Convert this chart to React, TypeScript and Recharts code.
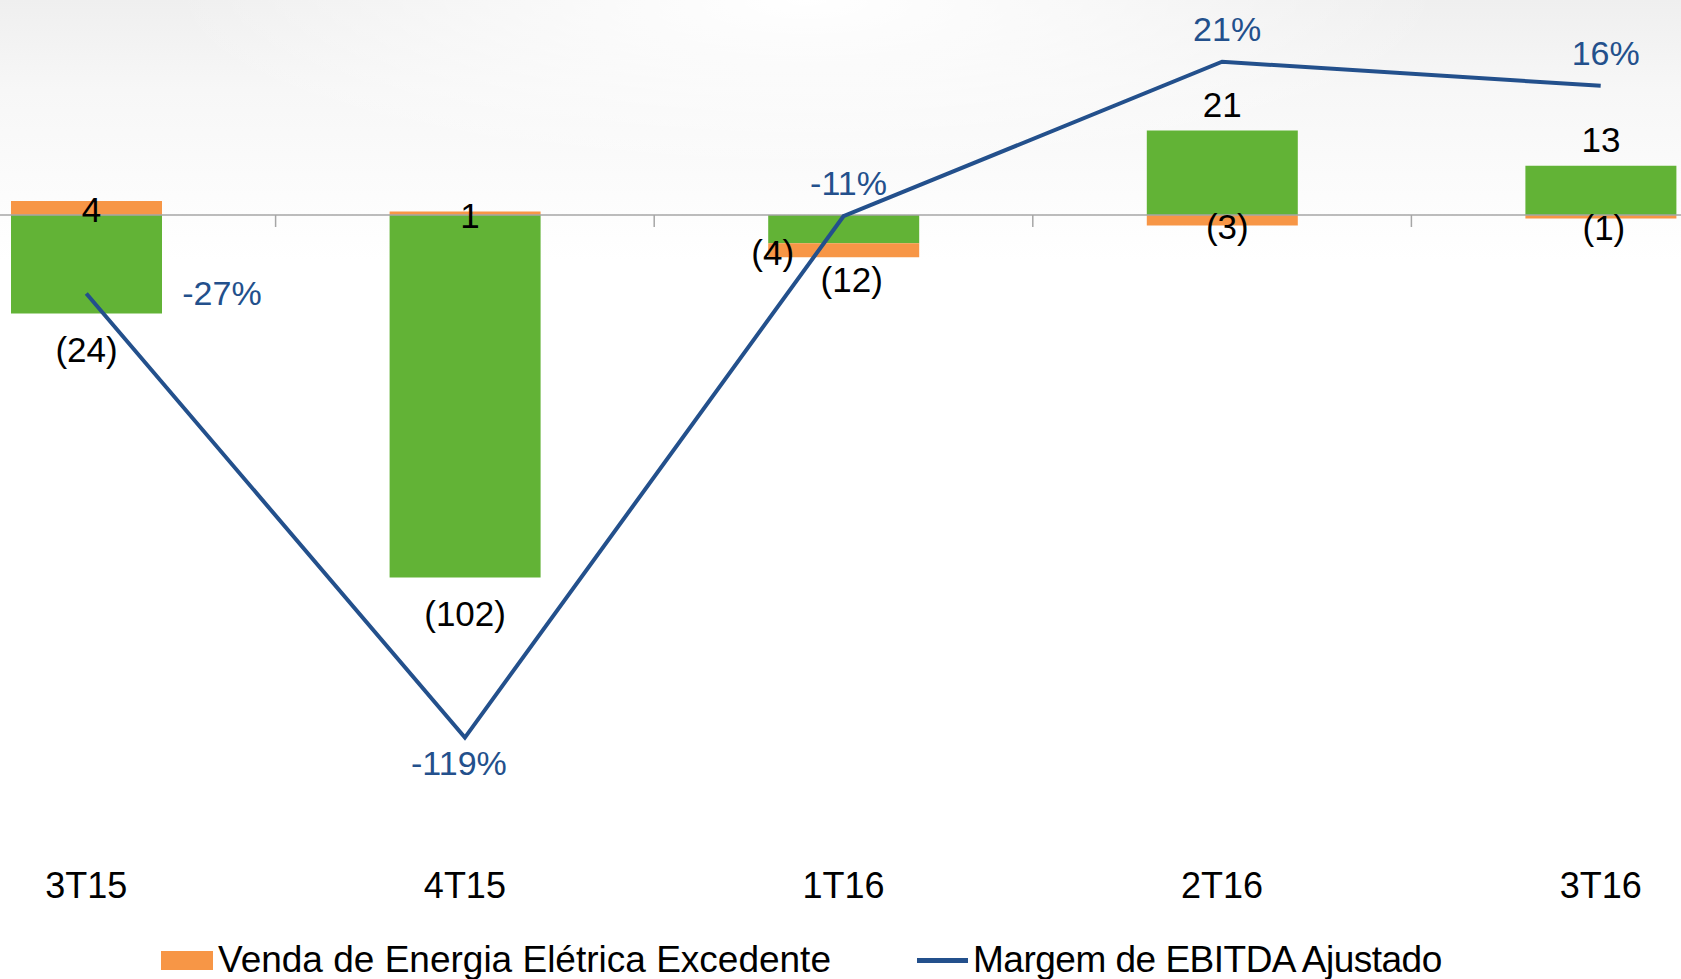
import React from 'react';
import {
  ComposedChart,
  Bar,
  Line,
  XAxis,
  YAxis,
  LabelList,
  ReferenceLine,
} from 'recharts';

// ---- data ----
const QUARTERS = ['3T15', '4T15', '1T16', '2T16', '3T16'];
// Venda de Energia Elétrica Excedente (R$ MM)
const EXCEDENTE = [4, 1, -4, -3, -1];
// EBITDA Ajustado sem venda excedente (green bars)
const EBITDA_SEM_EXCEDENTE = [-28, -103, -8, 24, 14];
// EBITDA Ajustado total (labels above/below bars)
const EBITDA_TOTAL = [-24, -102, -12, 21, 13];
// Margem de EBITDA Ajustado (%)
const MARGEM = [-27, -119, -11, 21, 16];

const data = QUARTERS.map((q, i) => ({
  q,
  green: EBITDA_SEM_EXCEDENTE[i],
  orange: EXCEDENTE[i],
  total: EBITDA_TOTAL[i],
  pct: MARGEM[i],
}));

// ---- styles ----
const FONT = "'Liberation Sans', Arial, sans-serif";
const GREEN = '#62b336';
const ORANGE = '#f79646';
const BLUE = '#23508c';
const AXIS_GRAY = '#a6a6a6';
const PCT_LABEL_POS = ['right', 'below', 'above', 'above', 'above'];
const ORANGE_LABEL_NUDGE: [number, number][] = [
  [5, 2],
  [5, 2],
  [-71, 2],
  [5, 6],
  [3, 11],
];

const fmt = (v: number) => (v < 0 ? `(${Math.abs(v)})` : `${v}`);

function box(props: any) {
  const vb = props.viewBox || {};
  const x = props.x ?? vb.x ?? 0;
  const y = props.y ?? vb.y ?? 0;
  const w = props.width ?? vb.width ?? 0;
  const h = props.height ?? vb.height ?? 0;
  return { x: Number(x), y: Number(y), w: Number(w), h: Number(h) };
}

function idxOf(props: any, arr: number[]) {
  if (typeof props.index === 'number') return props.index;
  return arr.indexOf(Number(props.value));
}

const TotalLabel = (props: any) => {
  const i = idxOf(props, EBITDA_SEM_EXCEDENTE);
  if (i < 0) return null;
  const { x, y, w, h } = box(props);
  const top = Math.min(y, y + h);
  const bottom = Math.max(y, y + h);
  const total = EBITDA_TOTAL[i];
  const cx = x + w / 2 + (i === 2 ? 8 : 0);
  const cy = total < 0 ? bottom + 36 : top - 26;
  return (
    <text
      x={cx}
      y={cy}
      textAnchor="middle"
      dominantBaseline="central"
      fontFamily={FONT}
      fontSize={35}
      fill="#000"
    >
      {fmt(total)}
    </text>
  );
};

const OrangeLabel = (props: any) => {
  const i = idxOf(props, EXCEDENTE);
  if (i < 0) return null;
  const { x, y, w, h } = box(props);
  const top = Math.min(y, y + h);
  const bottom = Math.max(y, y + h);
  const [dx, dy] = ORANGE_LABEL_NUDGE[i] || [0, 0];
  return (
    <text
      x={x + w / 2 + dx}
      y={(top + bottom) / 2 + dy}
      textAnchor="middle"
      dominantBaseline="central"
      fontFamily={FONT}
      fontSize={35}
      fill="#000"
    >
      {fmt(EXCEDENTE[i])}
    </text>
  );
};

const PctLabel = (props: any) => {
  const i = idxOf(props, MARGEM);
  if (i < 0) return null;
  const { x, y } = box(props);
  const pos = PCT_LABEL_POS[i];
  let tx = x;
  let ty = y;
  let anchor: 'start' | 'middle' = 'middle';
  if (pos === 'right') {
    tx = x + 96;
    anchor = 'start';
  } else if (pos === 'below') {
    tx = x - 6;
    ty = y + 25;
  } else {
    tx = x + 5;
    ty = y - 33;
  }
  return (
    <text
      x={tx}
      y={ty}
      textAnchor={anchor}
      dominantBaseline="central"
      fontFamily={FONT}
      fontSize={34}
      fill={BLUE}
    >
      {`${MARGEM[i]}%`}
    </text>
  );
};

const ZeroAxis = (props: any) => {
  const x1 = Number(props.x1 ?? 0);
  const x2 = Number(props.x2 ?? 0);
  const y = Number(props.y1 ?? 0);
  const n = QUARTERS.length;
  const step = (x2 - x1) / n;
  const ticks = [];
  for (let k = 0; k <= n; k++) {
    const tx = x1 + k * step;
    ticks.push(
      <line key={k} x1={tx} x2={tx} y1={y} y2={y + 12} stroke={AXIS_GRAY} strokeWidth={1.5} />
    );
  }
  return (
    <g>
      <line x1={x1} x2={x2} y1={y} y2={y} stroke={AXIS_GRAY} strokeWidth={1.5} />
      {ticks}
    </g>
  );
};

export default function App() {
  return (
    <div
      style={{
        position: 'absolute',
        left: 0,
        top: 0,
        width: 1681,
        height: 979,
        overflow: 'hidden',
        background:
          'radial-gradient(ellipse 38% 18% at 48% 0%, rgba(255,255,255,1) 0%, rgba(255,255,255,0) 100%), linear-gradient(to bottom, #efefef 0px, #f7f7f7 90px, #ffffff 260px)',
        fontFamily: FONT,
      }}
    >
      <div style={{ position: 'absolute', left: -103.3, top: 0 }}>
        <ComposedChart
          width={1893}
          height={979}
          data={data}
          stackOffset="sign"
          margin={{ top: 3.8, right: 0, bottom: 70.4, left: 0 }}
        >
          <XAxis
            dataKey="q"
            height={60}
            axisLine={false}
            tickLine={false}
            tickSize={0}
            tickMargin={24}
            interval={0}
            tick={{ fontSize: 36, fill: '#000', fontFamily: FONT }}
          />
          <YAxis yAxisId="bar" hide domain={[-180, 60]} allowDataOverflow />
          <YAxis yAxisId="pct" orientation="right" hide domain={[-142, 33]} allowDataOverflow />
          <Bar
            yAxisId="bar"
            dataKey="green"
            stackId="s"
            fill={GREEN}
            barSize={151}
            isAnimationActive={false}
          >
            <LabelList dataKey="green" content={TotalLabel} />
          </Bar>
          <Bar
            yAxisId="bar"
            dataKey="orange"
            stackId="s"
            fill={ORANGE}
            barSize={151}
            isAnimationActive={false}
          >
            <LabelList dataKey="orange" content={OrangeLabel} />
          </Bar>
          <ReferenceLine yAxisId="bar" y={0} shape={ZeroAxis} />
          <Line
            yAxisId="pct"
            dataKey="pct"
            type="linear"
            stroke={BLUE}
            strokeWidth={4}
            dot={false}
            activeDot={false}
            isAnimationActive={false}
          >
            <LabelList dataKey="pct" content={PctLabel} />
          </Line>
        </ComposedChart>
      </div>
      <div
        style={{
          position: 'absolute',
          left: 161,
          top: 938,
          height: 44,
          display: 'flex',
          alignItems: 'center',
          fontSize: 37,
          color: '#000',
          whiteSpace: 'nowrap',
        }}
      >
        <div style={{ width: 52, height: 19, background: ORANGE, marginRight: 5 }} />
        <span>Venda de Energia Elétrica Excedente</span>
      </div>
      <div
        style={{
          position: 'absolute',
          left: 917,
          top: 938,
          height: 44,
          display: 'flex',
          alignItems: 'center',
          fontSize: 37,
          color: '#000',
          whiteSpace: 'nowrap',
        }}
      >
        <div style={{ width: 51, height: 5, background: BLUE, marginRight: 5 }} />
        <span style={{ letterSpacing: -0.5 }}>Margem de EBITDA Ajustado</span>
      </div>
    </div>
  );
}
